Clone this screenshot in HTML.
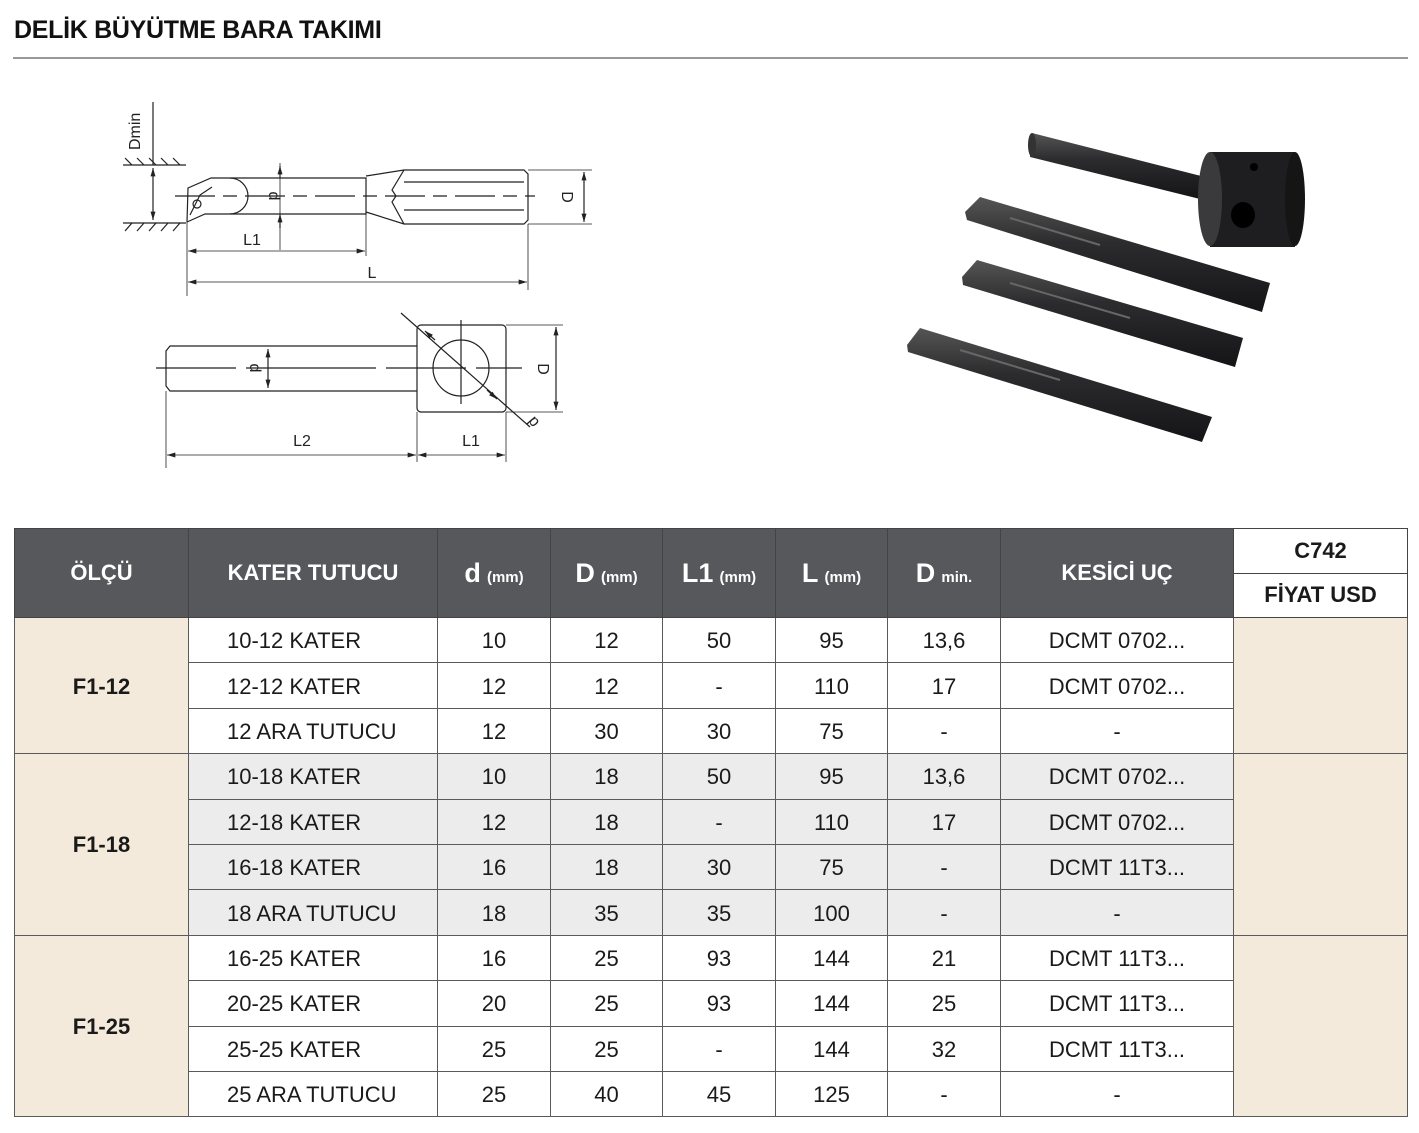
<!DOCTYPE html>
<html><head><meta charset="utf-8">
<style>
html,body{margin:0;padding:0;background:#fff;}
body{width:1419px;height:1133px;position:relative;overflow:hidden;font-family:"Liberation Sans Narrow","Liberation Sans",sans-serif;}
.title{position:absolute;left:14px;top:16px;font-size:25px;font-weight:bold;color:#111;letter-spacing:-0.3px;}
.rule{position:absolute;left:13px;top:57px;width:1395px;height:2px;background:#999;}
svg{position:absolute;left:0;top:0;}
table{position:absolute;left:14px;top:528px;border-collapse:collapse;table-layout:fixed;}
td{border:1.5px solid #5a5a5a;text-align:center;font-size:22px;color:#1a1a1a;height:45.4px;padding:2px 0 0 0;box-sizing:border-box;}
td.n{text-align:left;padding-left:38px;}
th{background:#57585c;color:#fff;border:1.5px solid #444;font-size:22px;font-weight:bold;padding:0;}
th small{font-size:15px;}
th big{font-size:27px;}
.pr{background:#fff;color:#1a1a1a;height:43px;font-size:22px;}
.g{background:#f4eadb;font-weight:bold;}
.gy td{background:#ececec;}
.gy td.g{background:#f4eadb;}
</style></head><body>
<div class="title">DELİK BÜYÜTME BARA TAKIMI</div>
<div class="rule"></div>
<svg width="1419" height="520" viewBox="0 0 1419 520">
<defs>
<marker id="a" viewBox="0 0 10 6" refX="10" refY="3" markerWidth="10" markerHeight="5" orient="auto-start-reverse" markerUnits="userSpaceOnUse"><path d="M0,0L10,3L0,6z" fill="#222"/></marker>
<linearGradient id="bar" x1="0" y1="0" x2="0" y2="1"><stop offset="0" stop-color="#555"/><stop offset=".4" stop-color="#2c2c2e"/><stop offset="1" stop-color="#141416"/></linearGradient>
</defs>
<g stroke="#222" stroke-width="1.2" fill="none">
<line x1="153" y1="102" x2="153" y2="165"/>
<line x1="123" y1="165" x2="186" y2="165"/>
<path d="M125,158l7,7M137,158l7,7M149,158l7,7M161,158l7,7M173,158l7,7"/>
<line x1="123" y1="223" x2="186" y2="223"/>
<path d="M125,231l7,-8M137,231l7,-8M149,231l7,-8M161,231l7,-8M173,231l7,-8"/>
<line x1="153" y1="168" x2="153" y2="220" marker-start="url(#a)" marker-end="url(#a)"/>
<path d="M187,222L188,188L211,178H366V214H205L187,222"/>
<path d="M230,178a18,18 0 0 1 0,36"/>
<path d="M190,215l10,-20l12,-8"/>
<circle cx="197" cy="204" r="4"/>
<path d="M366,176L404,170H524L528,174V220L524,224H404L366,212"/>
<path d="M404,170L392,190L396,196L392,202L404,224M404,182H524M404,210H524"/>
<line x1="175" y1="196" x2="535" y2="196" stroke-dasharray="40,8,14,8"/>
<line x1="280" y1="163" x2="280" y2="250" stroke-width="0.8"/>
<line x1="280" y1="166" x2="280" y2="178" marker-start="url(#a)"/>
<line x1="280" y1="214" x2="280" y2="228" marker-start="url(#a)"/>
<line x1="528" y1="170" x2="592" y2="170" stroke-width="0.8"/>
<line x1="528" y1="224" x2="592" y2="224" stroke-width="0.8"/>
<line x1="584" y1="172" x2="584" y2="222" marker-start="url(#a)" marker-end="url(#a)"/>
<line x1="187" y1="222" x2="187" y2="296" stroke-width="0.8"/>
<line x1="366" y1="214" x2="366" y2="256" stroke-width="0.8"/>
<line x1="528" y1="224" x2="528" y2="290" stroke-width="0.8"/>
<line x1="188" y1="251" x2="365" y2="251" marker-start="url(#a)" marker-end="url(#a)" stroke-width="0.8"/>
<line x1="188" y1="282" x2="527" y2="282" marker-start="url(#a)" marker-end="url(#a)" stroke-width="0.8"/>
<path d="M417,346H170L166,351V386L170,391H417"/>
<rect x="417" y="325" width="89" height="87" rx="4"/>
<circle cx="461" cy="368" r="28"/>
<line x1="156" y1="368" x2="522" y2="368" stroke-dasharray="80,10,130,10"/>
<line x1="461" y1="320" x2="461" y2="404"/>
<line x1="401" y1="313" x2="530" y2="427"/>
<line x1="435" y1="340" x2="425" y2="331" marker-end="url(#a)"/>
<line x1="487" y1="390" x2="497" y2="399" marker-end="url(#a)"/>
<line x1="268" y1="349" x2="268" y2="388" marker-start="url(#a)" marker-end="url(#a)"/>
<line x1="506" y1="325" x2="563" y2="325" stroke-width="0.8"/>
<line x1="506" y1="412" x2="563" y2="412" stroke-width="0.8"/>
<line x1="556" y1="327" x2="556" y2="410" marker-start="url(#a)" marker-end="url(#a)"/>
<line x1="166" y1="391" x2="166" y2="468" stroke-width="0.8"/>
<line x1="417" y1="412" x2="417" y2="462" stroke-width="0.8"/>
<line x1="506" y1="412" x2="506" y2="462" stroke-width="0.8"/>
<line x1="167" y1="455" x2="416" y2="455" marker-start="url(#a)" marker-end="url(#a)" stroke-width="0.8"/>
<line x1="418" y1="455" x2="505" y2="455" marker-start="url(#a)" marker-end="url(#a)" stroke-width="0.8"/>
</g>
<g font-family="Liberation Sans, sans-serif" font-size="16" fill="#222">
<text transform="translate(140,150) rotate(-90)">Dmin</text>
<text transform="translate(269,196) rotate(90)" text-anchor="middle">d</text>
<text transform="translate(562,197) rotate(90)" text-anchor="middle">D</text>
<text x="252" y="245" text-anchor="middle">L1</text>
<text x="372" y="278" text-anchor="middle">L</text>
<text transform="translate(250,368) rotate(90)" text-anchor="middle">d</text>
<text transform="translate(538,369) rotate(90)" text-anchor="middle">D</text>
<text transform="translate(537,419) rotate(-130)" text-anchor="middle">d</text>
<text x="302" y="446" text-anchor="middle">L2</text>
<text x="471" y="446" text-anchor="middle">L1</text>
</g>
<g>
<path d="M1032,133L1205,177L1200,199L1030,157Z" fill="url(#bar)"/>
<ellipse cx="1032" cy="145" rx="4" ry="12" fill="#333"/>
<path d="M1210,152H1295V247H1210Z" fill="#1e1e20"/>
<ellipse cx="1210" cy="199" rx="12" ry="47" fill="#3a3a3c"/>
<ellipse cx="1295" cy="199" rx="10" ry="47" fill="#151516"/>
<ellipse cx="1243" cy="215" rx="12" ry="13" fill="#000"/>
<circle cx="1254" cy="167" r="4" fill="#000"/>
<path d="M980,197L1270,283L1262,312L967,220L965,212Z" fill="url(#bar)"/>
<path d="M977,260L1243,338L1235,367L963,285L962,277Z" fill="url(#bar)"/>
<path d="M920,328L1212,417L1202,442L908,352L907,345Z" fill="url(#bar)"/>
<path d="M1010,218L1100,245" stroke="#666" stroke-width="2"/>
<path d="M1010,283L1130,318" stroke="#666" stroke-width="2"/>
<path d="M960,350L1060,380" stroke="#666" stroke-width="2"/>
</g>
</svg>
<table>
<colgroup><col style="width:174px"><col style="width:249px"><col style="width:113px"><col style="width:112px"><col style="width:113px"><col style="width:112px"><col style="width:113px"><col style="width:233px"><col style="width:174px"></colgroup>
<tr><th rowspan="2" style="height:88px">ÖLÇÜ</th><th rowspan="2">KATER TUTUCU</th><th rowspan="2"><big>d</big> <small>(mm)</small></th><th rowspan="2"><big>D</big> <small>(mm)</small></th><th rowspan="2"><big>L1</big> <small>(mm)</small></th><th rowspan="2"><big>L</big> <small>(mm)</small></th><th rowspan="2"><big>D</big> <small>min.</small></th><th rowspan="2">KESİCİ UÇ</th><th class="pr">C742</th></tr>
<tr><th class="pr">FİYAT USD</th></tr>
<tr><td class="g" rowspan="3">F1-12</td><td class="n">10-12 KATER</td><td>10</td><td>12</td><td>50</td><td>95</td><td>13,6</td><td>DCMT 0702...</td><td class="g" rowspan="3"></td></tr>
<tr><td class="n">12-12 KATER</td><td>12</td><td>12</td><td>-</td><td>110</td><td>17</td><td>DCMT 0702...</td></tr>
<tr><td class="n">12 ARA TUTUCU</td><td>12</td><td>30</td><td>30</td><td>75</td><td>-</td><td>-</td></tr>
<tr class="gy"><td class="g" rowspan="4">F1-18</td><td class="n">10-18 KATER</td><td>10</td><td>18</td><td>50</td><td>95</td><td>13,6</td><td>DCMT 0702...</td><td class="g" rowspan="4"></td></tr>
<tr class="gy"><td class="n">12-18 KATER</td><td>12</td><td>18</td><td>-</td><td>110</td><td>17</td><td>DCMT 0702...</td></tr>
<tr class="gy"><td class="n">16-18 KATER</td><td>16</td><td>18</td><td>30</td><td>75</td><td>-</td><td>DCMT 11T3...</td></tr>
<tr class="gy"><td class="n">18 ARA TUTUCU</td><td>18</td><td>35</td><td>35</td><td>100</td><td>-</td><td>-</td></tr>
<tr><td class="g" rowspan="4">F1-25</td><td class="n">16-25 KATER</td><td>16</td><td>25</td><td>93</td><td>144</td><td>21</td><td>DCMT 11T3...</td><td class="g" rowspan="4"></td></tr>
<tr><td class="n">20-25 KATER</td><td>20</td><td>25</td><td>93</td><td>144</td><td>25</td><td>DCMT 11T3...</td></tr>
<tr><td class="n">25-25 KATER</td><td>25</td><td>25</td><td>-</td><td>144</td><td>32</td><td>DCMT 11T3...</td></tr>
<tr><td class="n">25 ARA TUTUCU</td><td>25</td><td>40</td><td>45</td><td>125</td><td>-</td><td>-</td></tr>
</table>
</body></html>
